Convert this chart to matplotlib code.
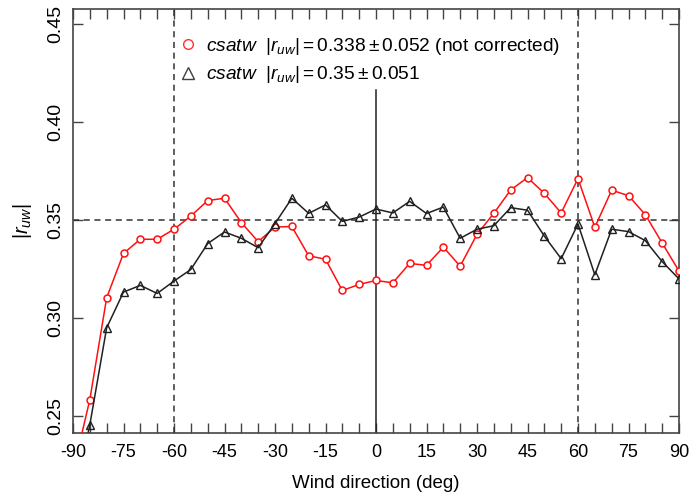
import matplotlib
matplotlib.use("Agg")
import matplotlib.pyplot as plt
from matplotlib.lines import Line2D
from matplotlib.ticker import MultipleLocator

plt.rcParams['font.family'] = ['Liberation Sans', 'DejaVu Sans']
plt.rcParams['mathtext.fontset'] = 'custom'
plt.rcParams['mathtext.rm'] = 'Liberation Sans'
plt.rcParams['mathtext.it'] = 'Liberation Sans:italic'
plt.rcParams['mathtext.bf'] = 'Liberation Sans:bold'

wind_dir = [-90, -85, -80, -75, -70, -65, -60, -55, -50, -45, -40, -35, -30, -25, -20, -15, -10, -5,
            0, 5, 10, 15, 20, 25, 30, 35, 40, 45, 50, 55, 60, 65, 70, 75, 80, 85, 90]
r_not_corrected = [0.222, 0.2585, 0.3104, 0.333, 0.3402, 0.3402, 0.3453, 0.352, 0.3599, 0.3611,
                   0.3487, 0.339, 0.3464, 0.3467, 0.3318, 0.330, 0.3141, 0.3172, 0.3192, 0.318,
                   0.3279, 0.3269, 0.3362, 0.3265, 0.3427, 0.3534, 0.3653, 0.3716, 0.3636, 0.3536,
                   0.3711, 0.3463, 0.3652, 0.3624, 0.3527, 0.3383, 0.324]
r_corrected = [0.205, 0.2457, 0.2951, 0.3133, 0.3167, 0.3126, 0.3189, 0.3248, 0.338, 0.3439,
               0.3407, 0.3359, 0.3482, 0.3611, 0.3534, 0.3577, 0.3493, 0.3515, 0.3556, 0.3536,
               0.3595, 0.3533, 0.3566, 0.3407, 0.3453, 0.3471, 0.3563, 0.355, 0.3418, 0.3303,
               0.348, 0.3221, 0.3453, 0.3441, 0.3395, 0.3288, 0.320]
label_nc = r'$\mathit{csatw}$  $|r_{uw}| = 0.338 \pm 0.052$ (not corrected)'
label_c = r'$\mathit{csatw}$  $|r_{uw}| = 0.35 \pm 0.051$'
xticks = list(range(-90, 91, 15))
yticks = [0.25, 0.30, 0.35, 0.40, 0.45]
ref_value = 0.35

fig = plt.figure(figsize=(6.9, 4.96), dpi=100)
ax = fig.add_axes([73/690, 1-433/496, 606/690, 424/496])

ax.plot(wind_dir, r_not_corrected, color='#ff1010', lw=1.1, marker='o', ms=5,
        mfc='white', mec='#ff1010', mew=1.1, zorder=3)
ax.plot(wind_dir, r_corrected, color='#202020', lw=1.1, marker='^', ms=6,
        mfc='none', mec='#202020', mew=1.0, zorder=3)

dash = (0, (4, 3))
ax.axhline(ref_value, color='#333333', lw=1.1, ls=dash, zorder=2)
ax.axvline(-60, color='#333333', lw=1.1, ls=dash, zorder=2)
ax.axvline(60, color='#333333', lw=1.1, ls=dash, zorder=2)
ax.plot([0, 0], [0.2415, 0.416], color='#202020', lw=1.1, zorder=2)

ax.set_xlim(-90, 90)
ax.set_ylim(0.2415, 0.4575)
ax.set_xticks(xticks)
ax.set_xticklabels([str(t) for t in xticks])
ax.set_yticks(yticks)
ax.set_yticklabels(['%.2f' % t for t in yticks], rotation=90, va='center')
ax.xaxis.set_minor_locator(MultipleLocator(5))
ax.tick_params(axis='both', which='both', direction='in', top=True, right=True,
               color='#444444', width=1.0)
ax.tick_params(axis='x', which='both', length=7, labelsize=13)
ax.tick_params(axis='y', which='major', length=7, pad=6, labelsize=14)
ax.tick_params(axis='x', which='major', pad=8)
for s in ax.spines.values():
    s.set_color('#444444')
    s.set_linewidth(1.2)

ax.set_xlabel('Wind direction (deg)', fontsize=13.5, labelpad=10)
ax.set_ylabel(r'$|r_{uw}|$', fontsize=14.5, labelpad=10)

handles = [Line2D([], [], ls='none', marker='o', ms=7, mfc='none', mec='#ff3030', mew=1.0),
           Line2D([], [], ls='none', marker='^', ms=8, mfc='none', mec='#404040', mew=1.0)]
ax.legend(handles, [label_nc, label_c], loc='upper left', bbox_to_anchor=(0.143, 0.978),
          frameon=False, fontsize=13.8, handletextpad=0.3, labelspacing=0.4,
          handlelength=1.2)

fig.savefig('out.png', dpi=100)
